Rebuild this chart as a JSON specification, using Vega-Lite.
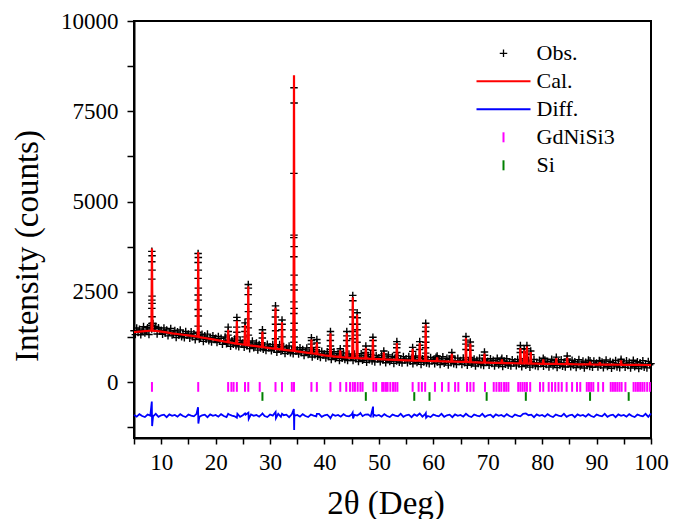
{
"$schema": "https://vega.github.io/schema/vega-lite/v6.json",
"width": 517, "height": 417,
"autosize": "none",
"padding": {"left": 134, "top": 21, "right": 30, "bottom": 81},
"config": {
 "font": "Liberation Serif",
 "view": {"stroke": "#000000", "strokeWidth": 2},
 "axis": {"domainColor": "#000000", "domainWidth": 2, "tickColor": "#000000", "tickWidth": 1.5, "labelColor": "#000000", "labelFont": "Liberation Serif", "labelFontSize": 23, "titleFont": "Liberation Serif", "titleFontSize": 33, "titleFontWeight": "normal", "titleColor": "#000000", "grid": false},
 "legend": {"orient": "none", "legendX": 358.5, "legendY": 21.3, "padding": 0, "symbolSize": 100, "symbolOffset": 0, "labelOffset": 22, "rowPadding": 6, "labelFont": "Liberation Serif", "labelFontSize": 22, "labelColor": "#000000", "symbolOpacity": 1, "symbolStrokeWidth": 2}
},
"datasets": {
 "obs": [
  {"x":5,"y":1420},{"x":5.25,"y":1314},{"x":5.5,"y":1498},{"x":5.75,"y":1371},{"x":6,"y":1465},{"x":6.25,"y":1309},{"x":6.5,"y":1423},{"x":6.75,"y":1536},{"x":7,"y":1360},{"x":7.25,"y":1413},{"x":7.5,"y":1505},{"x":7.75,"y":1318},{"x":8,"y":1560},{"x":8.25,"y":1470},{"x":8.5,"y":1620},{"x":8.75,"y":1480},{"x":9,"y":1540},{"x":9.25,"y":1330},{"x":9.5,"y":1505},{"x":9.75,"y":1410},
  {"x":10,"y":1435},{"x":10.25,"y":1320},{"x":10.5,"y":1495},{"x":10.75,"y":1360},{"x":11,"y":1445},{"x":11.25,"y":1279},{"x":11.5,"y":1383},{"x":11.75,"y":1486},{"x":12,"y":1300},{"x":12.25,"y":1345},{"x":12.5,"y":1430},{"x":12.75,"y":1235},{"x":13,"y":1390},{"x":13.25,"y":1295},{"x":13.5,"y":1440},{"x":13.75,"y":1255},{"x":14,"y":1340},{"x":14.25,"y":1225},{"x":14.5,"y":1400},{"x":14.75,"y":1305},
  {"x":15,"y":1330},{"x":15.25,"y":1215},{"x":15.5,"y":1390},{"x":15.75,"y":1255},{"x":16,"y":1340},{"x":16.25,"y":1174},{"x":16.5,"y":1278},{"x":16.75,"y":1381},{"x":17,"y":1195},{"x":17.25,"y":1239},{"x":17.5,"y":1323},{"x":17.75,"y":1126},{"x":18,"y":1280},{"x":18.25,"y":1184},{"x":18.5,"y":1328},{"x":18.75,"y":1141},{"x":19,"y":1225},{"x":19.25,"y":1109},{"x":19.5,"y":1283},{"x":19.75,"y":1186},
  {"x":20,"y":1210},{"x":20.25,"y":1093},{"x":20.5,"y":1265},{"x":20.75,"y":1128},{"x":21,"y":1210},{"x":21.25,"y":1043},{"x":21.5,"y":1145},{"x":21.75,"y":1248},{"x":22,"y":1060},{"x":22.25,"y":1104},{"x":22.5,"y":1188},{"x":22.75,"y":991},{"x":23,"y":1145},{"x":23.25,"y":1049},{"x":23.5,"y":1193},{"x":23.75,"y":1006},{"x":24,"y":1090},{"x":24.25,"y":975},{"x":24.5,"y":1150},{"x":24.75,"y":1055},
  {"x":25,"y":1080},{"x":25.25,"y":965},{"x":25.5,"y":1140},{"x":25.75,"y":1005},{"x":26,"y":1090},{"x":26.25,"y":925},{"x":26.5,"y":1030},{"x":26.75,"y":1135},{"x":27,"y":950},{"x":27.25,"y":995},{"x":27.5,"y":1080},{"x":27.75,"y":885},{"x":28,"y":1040},{"x":28.25,"y":945},{"x":28.5,"y":1090},{"x":28.75,"y":905},{"x":29,"y":990},{"x":29.25,"y":875},{"x":29.5,"y":1050},{"x":29.75,"y":955},
  {"x":30,"y":980},{"x":30.25,"y":865},{"x":30.5,"y":1040},{"x":30.75,"y":905},{"x":31,"y":990},{"x":31.25,"y":826},{"x":31.5,"y":931},{"x":31.75,"y":1037},{"x":32,"y":853},{"x":32.25,"y":899},{"x":32.5,"y":984},{"x":32.75,"y":790},{"x":33,"y":946},{"x":33.25,"y":851},{"x":33.5,"y":997},{"x":33.75,"y":812},{"x":34,"y":898},{"x":34.25,"y":784},{"x":34.5,"y":959},{"x":34.75,"y":865},
  {"x":35,"y":890},{"x":35.25,"y":775},{"x":35.5,"y":950},{"x":35.75,"y":815},{"x":36,"y":900},{"x":36.25,"y":735},{"x":36.5,"y":840},{"x":36.75,"y":945},{"x":37,"y":760},{"x":37.25,"y":805},{"x":37.5,"y":890},{"x":37.75,"y":695},{"x":38,"y":850},{"x":38.25,"y":754},{"x":38.5,"y":898},{"x":38.75,"y":711},{"x":39,"y":795},{"x":39.25,"y":679},{"x":39.5,"y":853},{"x":39.75,"y":756},
  {"x":40,"y":780},{"x":40.25,"y":665},{"x":40.5,"y":840},{"x":40.75,"y":705},{"x":41,"y":790},{"x":41.25,"y":626},{"x":41.5,"y":733},{"x":41.75,"y":839},{"x":42,"y":655},{"x":42.25,"y":702},{"x":42.5,"y":789},{"x":42.75,"y":595},{"x":43,"y":752},{"x":43.25,"y":659},{"x":43.5,"y":806},{"x":43.75,"y":623},{"x":44,"y":710},{"x":44.25,"y":598},{"x":44.5,"y":775},{"x":44.75,"y":683},
  {"x":45,"y":710},{"x":45.25,"y":598},{"x":45.5,"y":776},{"x":45.75,"y":644},{"x":46,"y":732},{"x":46.25,"y":570},{"x":46.5,"y":678},{"x":46.75,"y":787},{"x":47,"y":605},{"x":47.25,"y":653},{"x":47.5,"y":741},{"x":47.75,"y":549},{"x":48,"y":707},{"x":48.25,"y":615},{"x":48.5,"y":763},{"x":48.75,"y":582},{"x":49,"y":670},{"x":49.25,"y":558},{"x":49.5,"y":736},{"x":49.75,"y":644},
  {"x":50,"y":672},{"x":50.25,"y":561},{"x":50.5,"y":739},{"x":50.75,"y":608},{"x":51,"y":696},{"x":51.25,"y":535},{"x":51.5,"y":643},{"x":51.75,"y":752},{"x":52,"y":570},{"x":52.25,"y":619},{"x":52.5,"y":707},{"x":52.75,"y":516},{"x":53,"y":674},{"x":53.25,"y":583},{"x":53.5,"y":731},{"x":53.75,"y":550},{"x":54,"y":638},{"x":54.25,"y":527},{"x":54.5,"y":705},{"x":54.75,"y":614},
  {"x":55,"y":642},{"x":55.25,"y":531},{"x":55.5,"y":710},{"x":55.75,"y":578},{"x":56,"y":667},{"x":56.25,"y":506},{"x":56.5,"y":615},{"x":56.75,"y":723},{"x":57,"y":542},{"x":57.25,"y":591},{"x":57.5,"y":680},{"x":57.75,"y":489},{"x":58,"y":648},{"x":58.25,"y":557},{"x":58.5,"y":706},{"x":58.75,"y":525},{"x":59,"y":614},{"x":59.25,"y":503},{"x":59.5,"y":682},{"x":59.75,"y":591},
  {"x":60,"y":620},{"x":60.25,"y":509},{"x":60.5,"y":688},{"x":60.75,"y":557},{"x":61,"y":646},{"x":61.25,"y":485},{"x":61.5,"y":594},{"x":61.75,"y":703},{"x":62,"y":522},{"x":62.25,"y":571},{"x":62.5,"y":660},{"x":62.75,"y":469},{"x":63,"y":628},{"x":63.25,"y":537},{"x":63.5,"y":686},{"x":63.75,"y":505},{"x":64,"y":594},{"x":64.25,"y":483},{"x":64.5,"y":662},{"x":64.75,"y":571},
  {"x":65,"y":600},{"x":65.25,"y":489},{"x":65.5,"y":668},{"x":65.75,"y":536},{"x":66,"y":625},{"x":66.25,"y":464},{"x":66.5,"y":573},{"x":66.75,"y":681},{"x":67,"y":500},{"x":67.25,"y":549},{"x":67.5,"y":638},{"x":67.75,"y":446},{"x":68,"y":605},{"x":68.25,"y":514},{"x":68.5,"y":663},{"x":68.75,"y":481},{"x":69,"y":570},{"x":69.25,"y":459},{"x":69.5,"y":638},{"x":69.75,"y":546},
  {"x":70,"y":575},{"x":70.25,"y":464},{"x":70.5,"y":644},{"x":70.75,"y":513},{"x":71,"y":602},{"x":71.25,"y":441},{"x":71.5,"y":550},{"x":71.75,"y":660},{"x":72,"y":479},{"x":72.25,"y":528},{"x":72.5,"y":617},{"x":72.75,"y":427},{"x":73,"y":586},{"x":73.25,"y":495},{"x":73.5,"y":644},{"x":73.75,"y":464},{"x":74,"y":553},{"x":74.25,"y":442},{"x":74.5,"y":621},{"x":74.75,"y":531},
  {"x":75,"y":560},{"x":75.25,"y":449},{"x":75.5,"y":628},{"x":75.75,"y":498},{"x":76,"y":587},{"x":76.25,"y":426},{"x":76.5,"y":535},{"x":76.75,"y":645},{"x":77,"y":464},{"x":77.25,"y":513},{"x":77.5,"y":602},{"x":77.75,"y":412},{"x":78,"y":571},{"x":78.25,"y":480},{"x":78.5,"y":629},{"x":78.75,"y":449},{"x":79,"y":538},{"x":79.25,"y":427},{"x":79.5,"y":606},{"x":79.75,"y":516},
  {"x":80,"y":545},{"x":80.25,"y":435},{"x":80.5,"y":614},{"x":80.75,"y":484},{"x":81,"y":573},{"x":81.25,"y":413},{"x":81.5,"y":522},{"x":81.75,"y":632},{"x":82,"y":451},{"x":82.25,"y":501},{"x":82.5,"y":590},{"x":82.75,"y":400},{"x":83,"y":559},{"x":83.25,"y":469},{"x":83.5,"y":618},{"x":83.75,"y":438},{"x":84,"y":527},{"x":84.25,"y":417},{"x":84.5,"y":596},{"x":84.75,"y":506},
  {"x":85,"y":535},{"x":85.25,"y":425},{"x":85.5,"y":604},{"x":85.75,"y":474},{"x":86,"y":563},{"x":86.25,"y":403},{"x":86.5,"y":512},{"x":86.75,"y":622},{"x":87,"y":441},{"x":87.25,"y":491},{"x":87.5,"y":580},{"x":87.75,"y":390},{"x":88,"y":549},{"x":88.25,"y":459},{"x":88.5,"y":608},{"x":88.75,"y":428},{"x":89,"y":517},{"x":89.25,"y":407},{"x":89.5,"y":586},{"x":89.75,"y":496},
  {"x":90,"y":525},{"x":90.25,"y":415},{"x":90.5,"y":594},{"x":90.75,"y":464},{"x":91,"y":554},{"x":91.25,"y":393},{"x":91.5,"y":503},{"x":91.75,"y":612},{"x":92,"y":432},{"x":92.25,"y":482},{"x":92.5,"y":571},{"x":92.75,"y":381},{"x":93,"y":541},{"x":93.25,"y":450},{"x":93.5,"y":600},{"x":93.75,"y":419},{"x":94,"y":509},{"x":94.25,"y":399},{"x":94.5,"y":578},{"x":94.75,"y":488},
  {"x":95,"y":518},{"x":95.25,"y":407},{"x":95.5,"y":587},{"x":95.75,"y":456},{"x":96,"y":546},{"x":96.25,"y":386},{"x":96.5,"y":495},{"x":96.75,"y":605},{"x":97,"y":425},{"x":97.25,"y":474},{"x":97.5,"y":564},{"x":97.75,"y":373},{"x":98,"y":533},{"x":98.25,"y":443},{"x":98.5,"y":592},{"x":98.75,"y":412},{"x":99,"y":502},{"x":99.25,"y":391},{"x":99.5,"y":571},{"x":99.75,"y":480},{"x":100,"y":510},
  {"x":8.28,"y":3620},{"x":8.32,"y":3500},{"x":8.28,"y":3330},{"x":8.32,"y":3100},{"x":8.28,"y":2850},{"x":8.32,"y":2380},{"x":8.28,"y":2270},{"x":8.32,"y":2180},{"x":8.28,"y":2040},{"x":8.32,"y":1810},{"x":8.28,"y":1620},
  {"x":16.78,"y":3560},{"x":16.82,"y":3450},{"x":16.78,"y":3310},{"x":16.82,"y":3100},{"x":16.78,"y":2870},{"x":16.82,"y":2600},{"x":16.78,"y":2410},{"x":16.82,"y":2270},{"x":16.78,"y":2010},{"x":16.82,"y":1830},{"x":16.78,"y":1550},
  {"x":22.3,"y":1520},{"x":22.32,"y":1400},{"x":22.28,"y":1300},
  {"x":23.9,"y":1790},{"x":23.92,"y":1700},{"x":23.88,"y":1520},{"x":23.9,"y":1380},{"x":23.92,"y":1250},
  {"x":25.4,"y":1640},{"x":25.42,"y":1530},{"x":25.38,"y":1400},{"x":25.4,"y":1250},
  {"x":26,"y":2700},{"x":26.02,"y":2600},{"x":25.98,"y":2420},{"x":26,"y":2150},{"x":26.02,"y":1950},{"x":25.98,"y":1750},{"x":26,"y":1500},{"x":26.02,"y":1300},
  {"x":28.6,"y":1450},{"x":28.62,"y":1350},{"x":28.58,"y":1220},
  {"x":31,"y":2110},{"x":31.02,"y":1990},{"x":30.98,"y":1800},{"x":31,"y":1600},{"x":31.02,"y":1420},{"x":30.98,"y":1200},
  {"x":32.2,"y":1720},{"x":32.22,"y":1600},{"x":32.18,"y":1450},{"x":32.2,"y":1250},
  {"x":34.4,"y":8150},{"x":34.42,"y":7730},{"x":34.38,"y":5780},{"x":34.4,"y":4070},{"x":34.36,"y":4000},{"x":34.42,"y":3750},{"x":34.38,"y":3470},{"x":34.42,"y":2960},{"x":34.38,"y":2690},{"x":34.42,"y":2550},{"x":34.38,"y":2220},{"x":34.42,"y":2040},{"x":34.38,"y":1900},{"x":34.42,"y":1630},{"x":34.38,"y":1440},{"x":34.42,"y":1250},{"x":34.38,"y":1100},
  {"x":37.6,"y":1230},{"x":37.62,"y":1150},{"x":37.58,"y":1050},{"x":37.6,"y":950},
  {"x":38.6,"y":1180},{"x":38.62,"y":1080},{"x":38.58,"y":960},
  {"x":41.1,"y":1400},{"x":41.12,"y":1300},{"x":41.08,"y":1150},{"x":41.1,"y":1000},{"x":41.12,"y":900},
  {"x":42.9,"y":920},{"x":42.92,"y":850},
  {"x":44.1,"y":1400},{"x":44.12,"y":1280},{"x":44.08,"y":1150},{"x":44.1,"y":1000},
  {"x":45.2,"y":2400},{"x":45.22,"y":2250},{"x":45.18,"y":2000},{"x":45.2,"y":1800},{"x":45.22,"y":1600},{"x":45.18,"y":1400},{"x":45.2,"y":1200},
  {"x":46,"y":1920},{"x":46.02,"y":1780},{"x":45.98,"y":1600},{"x":46,"y":1450},{"x":46.02,"y":1300},{"x":45.98,"y":1100},
  {"x":47.6,"y":1000},{"x":47.62,"y":900},{"x":47.58,"y":820},
  {"x":48.9,"y":1240},{"x":48.92,"y":1150},{"x":48.88,"y":1000},{"x":48.9,"y":880},
  {"x":50.9,"y":860},{"x":50.92,"y":780},
  {"x":53.3,"y":1120},{"x":53.32,"y":1050},{"x":53.28,"y":950},{"x":53.3,"y":820},
  {"x":56.2,"y":960},{"x":56.22,"y":850},
  {"x":57.5,"y":1120},{"x":57.52,"y":1020},{"x":57.48,"y":900},
  {"x":58.6,"y":1630},{"x":58.62,"y":1520},{"x":58.58,"y":1400},{"x":58.6,"y":1250},{"x":58.62,"y":1100},{"x":58.58,"y":950},{"x":58.6,"y":800},
  {"x":60.7,"y":720},{"x":60.72,"y":650},
  {"x":63.4,"y":820},{"x":63.42,"y":720},
  {"x":66,"y":1260},{"x":66.02,"y":1160},{"x":65.98,"y":1050},{"x":66,"y":900},
  {"x":66.8,"y":1110},{"x":66.82,"y":1000},{"x":66.78,"y":880},
  {"x":69.4,"y":830},{"x":69.42,"y":740},
  {"x":72.6,"y":660},
  {"x":76,"y":1010},{"x":76.02,"y":920},{"x":75.98,"y":820},
  {"x":76.7,"y":920},{"x":76.72,"y":830},
  {"x":77.2,"y":1010},{"x":77.22,"y":920},{"x":77.18,"y":800},
  {"x":77.9,"y":860},{"x":77.92,"y":760},
  {"x":80.2,"y":660},{"x":82.6,"y":690},{"x":84.6,"y":720},{"x":84.62,"y":640},{"x":88.8,"y":590},{"x":90.6,"y":580},{"x":94.5,"y":630}
 ],
 "cal": [
  {"x":5,"y":1380},{"x":6,"y":1395},{"x":7,"y":1410},{"x":8,"y":1420},{"x":8.2,"y":1420},{"x":8.3,"y":3700},{"x":8.4,"y":1420},{"x":9,"y":1415},{"x":10,"y":1395},{"x":11,"y":1375},{"x":12,"y":1350},{"x":13,"y":1330},{"x":14,"y":1310},{"x":15,"y":1290},{"x":16,"y":1270},
  {"x":16.7,"y":1253},{"x":16.8,"y":3600},{"x":16.9,"y":1248},{"x":17,"y":1245},{"x":18,"y":1220},{"x":19,"y":1195},{"x":20,"y":1170},{"x":21,"y":1140},{"x":22,"y":1110},{"x":22.2,"y":1104},{"x":22.3,"y":1450},{"x":22.4,"y":1100},{"x":23,"y":1085},
  {"x":23.8,"y":1065},{"x":23.9,"y":1700},{"x":24,"y":1060},{"x":25,"y":1040},{"x":25.3,"y":1034},{"x":25.4,"y":1580},{"x":25.5,"y":1030},{"x":25.9,"y":1022},{"x":26,"y":2650},{"x":26.1,"y":1018},{"x":27,"y":1000},{"x":28,"y":980},
  {"x":28.5,"y":970},{"x":28.6,"y":1400},{"x":28.7,"y":966},{"x":29,"y":960},{"x":30,"y":940},{"x":30.9,"y":922},{"x":31,"y":2060},{"x":31.1,"y":918},{"x":32,"y":903},{"x":32.1,"y":901},{"x":32.2,"y":1660},{"x":32.3,"y":898},{"x":33,"y":886},{"x":34,"y":868},
  {"x":34.25,"y":864},{"x":34.33,"y":2500},{"x":34.4,"y":8500},{"x":34.47,"y":2500},{"x":34.55,"y":858},{"x":35,"y":850},{"x":36,"y":830},{"x":37,"y":810},{"x":37.5,"y":800},{"x":37.6,"y":1180},{"x":37.7,"y":796},{"x":38,"y":790},
  {"x":38.5,"y":778},{"x":38.6,"y":1100},{"x":38.7,"y":774},{"x":39,"y":765},{"x":40,"y":740},{"x":41,"y":720},{"x":41.1,"y":1350},{"x":41.2,"y":717},{"x":42,"y":705},{"x":42.8,"y":695},{"x":42.9,"y":880},{"x":43,"y":692},
  {"x":44,"y":680},{"x":44.1,"y":1350},{"x":44.2,"y":678},{"x":45,"y":670},{"x":45.1,"y":669},{"x":45.2,"y":2350},{"x":45.3,"y":668},{"x":45.9,"y":663},{"x":46,"y":1870},{"x":46.1,"y":661},{"x":47,"y":655},{"x":47.5,"y":651},{"x":47.6,"y":950},{"x":47.7,"y":650},
  {"x":48,"y":647},{"x":48.8,"y":642},{"x":48.9,"y":1190},{"x":49,"y":640},{"x":50,"y":632},{"x":50.8,"y":627},{"x":50.9,"y":820},{"x":51,"y":626},{"x":52,"y":620},{"x":53,"y":614},{"x":53.2,"y":613},{"x":53.3,"y":1080},{"x":53.4,"y":612},
  {"x":54,"y":608},{"x":55,"y":602},{"x":56,"y":597},{"x":56.1,"y":596},{"x":56.2,"y":920},{"x":56.3,"y":596},{"x":57,"y":592},{"x":57.4,"y":590},{"x":57.5,"y":1080},{"x":57.6,"y":590},{"x":58,"y":588},{"x":58.5,"y":586},{"x":58.6,"y":1590},{"x":58.7,"y":585},
  {"x":59,"y":584},{"x":60,"y":580},{"x":60.6,"y":578},{"x":60.7,"y":680},{"x":60.8,"y":577},{"x":61,"y":576},{"x":62,"y":572},{"x":63,"y":568},{"x":63.3,"y":567},{"x":63.4,"y":780},{"x":63.5,"y":566},{"x":64,"y":564},{"x":65,"y":560},
  {"x":65.9,"y":556},{"x":66,"y":1220},{"x":66.1,"y":555},{"x":66.7,"y":552},{"x":66.8,"y":1070},{"x":66.9,"y":551},{"x":67,"y":550},{"x":68,"y":545},{"x":69,"y":540},{"x":69.3,"y":539},{"x":69.4,"y":790},{"x":69.5,"y":538},{"x":70,"y":535},
  {"x":71,"y":532},{"x":72,"y":529},{"x":72.5,"y":527},{"x":72.6,"y":630},{"x":72.7,"y":527},{"x":73,"y":526},{"x":74,"y":523},{"x":75,"y":520},{"x":75.9,"y":517},{"x":76,"y":940},{"x":76.1,"y":517},{"x":76.6,"y":515},{"x":76.7,"y":880},{"x":76.8,"y":515},
  {"x":77,"y":514},{"x":77.1,"y":514},{"x":77.2,"y":980},{"x":77.3,"y":513},{"x":77.8,"y":511},{"x":77.9,"y":830},{"x":78,"y":511},{"x":79,"y":508},{"x":80,"y":505},{"x":80.1,"y":505},{"x":80.2,"y":630},{"x":80.3,"y":505},{"x":81,"y":503},{"x":82,"y":501},
  {"x":82.5,"y":500},{"x":82.6,"y":660},{"x":82.7,"y":500},{"x":83,"y":499},{"x":84,"y":497},{"x":84.5,"y":496},{"x":84.6,"y":680},{"x":84.7,"y":496},{"x":85,"y":495},{"x":86,"y":493},{"x":87,"y":491},{"x":88,"y":489},{"x":88.7,"y":488},{"x":88.8,"y":560},{"x":88.9,"y":487},
  {"x":89,"y":487},{"x":90,"y":485},{"x":90.5,"y":484},{"x":90.6,"y":550},{"x":90.7,"y":484},{"x":91,"y":484},{"x":92,"y":482},{"x":93,"y":481},{"x":94,"y":479},{"x":94.4,"y":479},{"x":94.5,"y":600},{"x":94.6,"y":478},{"x":95,"y":478},{"x":96,"y":476},{"x":97,"y":475},{"x":98,"y":473},{"x":99,"y":472},{"x":100,"y":470}
 ],
 "dif": [
  {"x":5,"y":-910},{"x":5.5,"y":-960},{"x":6,"y":-890},{"x":6.5,"y":-940},{"x":7,"y":-970},{"x":7.5,"y":-900},{"x":8,"y":-930},{"x":8.27,"y":-540},{"x":8.33,"y":-1220},{"x":8.5,"y":-950},{"x":9,"y":-880},{"x":9.5,"y":-965},{"x":10,"y":-920},{"x":10.5,"y":-905},{"x":11,"y":-975},{"x":11.5,"y":-895},{"x":12,"y":-935},{"x":12.5,"y":-910},{"x":13,"y":-960},{"x":13.5,"y":-890},{"x":14,"y":-940},{"x":14.5,"y":-970},{"x":15,"y":-900},{"x":15.5,"y":-930},{"x":16,"y":-950},{"x":16.5,"y":-880},{"x":16.77,"y":-700},{"x":16.83,"y":-1150},{"x":17,"y":-965},{"x":17.5,"y":-920},{"x":18,"y":-905},{"x":18.5,"y":-975},{"x":19,"y":-895},{"x":19.5,"y":-935},
  {"x":20,"y":-910},{"x":20.5,"y":-960},{"x":21,"y":-890},{"x":21.5,"y":-940},{"x":22,"y":-970},{"x":22.3,"y":-880},{"x":22.5,"y":-900},{"x":23,"y":-930},{"x":23.5,"y":-950},{"x":23.9,"y":-990},{"x":24,"y":-880},{"x":24.5,"y":-965},{"x":25,"y":-920},{"x":25.4,"y":-870},{"x":25.5,"y":-905},{"x":26.02,"y":-850},{"x":26.08,"y":-1020},{"x":26.5,"y":-895},{"x":27,"y":-935},{"x":27.5,"y":-910},{"x":28,"y":-960},{"x":28.5,"y":-890},{"x":28.6,"y":-870},{"x":29,"y":-940},{"x":29.5,"y":-970},
  {"x":30,"y":-900},{"x":30.5,"y":-930},{"x":31.02,"y":-830},{"x":31.08,"y":-1000},{"x":31.5,"y":-880},{"x":32,"y":-965},{"x":32.2,"y":-880},{"x":32.5,"y":-920},{"x":33,"y":-905},{"x":33.5,"y":-975},{"x":34,"y":-895},{"x":34.37,"y":-750},{"x":34.43,"y":-1330},{"x":34.47,"y":-870},{"x":34.5,"y":-935},{"x":35,"y":-910},{"x":35.5,"y":-960},{"x":36,"y":-890},{"x":36.5,"y":-940},{"x":37,"y":-970},{"x":37.5,"y":-900},{"x":38,"y":-930},{"x":38.5,"y":-950},{"x":38.6,"y":-880},{"x":39,"y":-880},{"x":39.5,"y":-965},
  {"x":40,"y":-920},{"x":40.5,"y":-905},{"x":41,"y":-975},{"x":41.1,"y":-1000},{"x":41.5,"y":-895},{"x":42,"y":-935},{"x":42.5,"y":-910},{"x":43,"y":-960},{"x":43.5,"y":-890},{"x":44,"y":-940},{"x":44.5,"y":-950},{"x":45,"y":-900},{"x":45.18,"y":-850},{"x":45.25,"y":-1010},{"x":45.5,"y":-910},{"x":46,"y":-930},{"x":46.5,"y":-880},{"x":46.6,"y":-860},{"x":47,"y":-945},{"x":47.5,"y":-900},{"x":48,"y":-895},{"x":48.5,"y":-955},{"x":48.93,"y":-680},{"x":48.97,"y":-980},{"x":49,"y":-895},{"x":49.5,"y":-935},
  {"x":50,"y":-910},{"x":50.5,"y":-960},{"x":51,"y":-890},{"x":51.5,"y":-940},{"x":52,"y":-970},{"x":52.5,"y":-900},{"x":53,"y":-930},{"x":53.5,"y":-950},{"x":54,"y":-880},{"x":54.5,"y":-965},{"x":55,"y":-920},{"x":55.5,"y":-905},{"x":56,"y":-975},{"x":56.5,"y":-895},{"x":57,"y":-935},{"x":57.5,"y":-870},{"x":58,"y":-960},{"x":58.5,"y":-890},{"x":58.62,"y":-860},{"x":58.68,"y":-990},{"x":59,"y":-940},{"x":59.5,"y":-970},
  {"x":60,"y":-900},{"x":60.5,"y":-930},{"x":61,"y":-950},{"x":61.5,"y":-880},{"x":62,"y":-965},{"x":62.5,"y":-920},{"x":63,"y":-905},{"x":63.5,"y":-975},{"x":64,"y":-895},{"x":64.5,"y":-935},{"x":65,"y":-910},{"x":65.5,"y":-960},{"x":66,"y":-880},{"x":66.5,"y":-940},{"x":67,"y":-970},{"x":67.5,"y":-900},{"x":68,"y":-930},{"x":68.5,"y":-950},{"x":69,"y":-880},{"x":69.5,"y":-965},
  {"x":70,"y":-920},{"x":70.5,"y":-905},{"x":71,"y":-975},{"x":71.5,"y":-895},{"x":72,"y":-935},{"x":72.5,"y":-910},{"x":73,"y":-960},{"x":73.5,"y":-890},{"x":74,"y":-940},{"x":74.5,"y":-970},{"x":75,"y":-900},{"x":75.5,"y":-930},{"x":76,"y":-950},{"x":76.5,"y":-880},{"x":77,"y":-870},{"x":77.5,"y":-920},{"x":78,"y":-905},{"x":78.5,"y":-975},{"x":79,"y":-895},{"x":79.5,"y":-935},
  {"x":80,"y":-910},{"x":80.5,"y":-960},{"x":81,"y":-890},{"x":81.5,"y":-940},{"x":82,"y":-970},{"x":82.5,"y":-900},{"x":83,"y":-930},{"x":83.5,"y":-950},{"x":84,"y":-880},{"x":84.5,"y":-965},{"x":85,"y":-920},{"x":85.5,"y":-905},{"x":86,"y":-975},{"x":86.5,"y":-895},{"x":87,"y":-935},{"x":87.5,"y":-910},{"x":88,"y":-960},{"x":88.5,"y":-890},{"x":89,"y":-940},{"x":89.5,"y":-970},
  {"x":90,"y":-900},{"x":90.5,"y":-930},{"x":91,"y":-950},{"x":91.5,"y":-880},{"x":92,"y":-965},{"x":92.5,"y":-920},{"x":93,"y":-905},{"x":93.5,"y":-975},{"x":94,"y":-895},{"x":94.5,"y":-935},{"x":95,"y":-910},{"x":95.5,"y":-960},{"x":96,"y":-890},{"x":96.5,"y":-940},{"x":97,"y":-970},{"x":97.5,"y":-900},{"x":98,"y":-930},{"x":98.5,"y":-950},{"x":99,"y":-880},{"x":99.5,"y":-965},{"x":100,"y":-870}
 ],
 "tk": [
  {"x":8.3,"p":"GdNiSi3"},{"x":16.8,"p":"GdNiSi3"},{"x":22.3,"p":"GdNiSi3"},{"x":22.9,"p":"GdNiSi3"},{"x":23.3,"p":"GdNiSi3"},{"x":23.9,"p":"GdNiSi3"},{"x":25.4,"p":"GdNiSi3"},{"x":26.0,"p":"GdNiSi3"},{"x":28.1,"p":"GdNiSi3"},{"x":31.0,"p":"GdNiSi3"},{"x":32.2,"p":"GdNiSi3"},{"x":34.0,"p":"GdNiSi3"},{"x":34.4,"p":"GdNiSi3"},{"x":37.6,"p":"GdNiSi3"},{"x":38.6,"p":"GdNiSi3"},{"x":41.1,"p":"GdNiSi3"},{"x":42.9,"p":"GdNiSi3"},{"x":44.0,"p":"GdNiSi3"},{"x":44.7,"p":"GdNiSi3"},{"x":45.2,"p":"GdNiSi3"},{"x":45.6,"p":"GdNiSi3"},{"x":46.1,"p":"GdNiSi3"},{"x":46.6,"p":"GdNiSi3"},{"x":47.0,"p":"GdNiSi3"},{"x":49.0,"p":"GdNiSi3"},{"x":49.5,"p":"GdNiSi3"},{"x":50.6,"p":"GdNiSi3"},{"x":50.9,"p":"GdNiSi3"},{"x":51.3,"p":"GdNiSi3"},{"x":51.6,"p":"GdNiSi3"},{"x":52.1,"p":"GdNiSi3"},{"x":52.6,"p":"GdNiSi3"},{"x":53.0,"p":"GdNiSi3"},{"x":53.4,"p":"GdNiSi3"},
  {"x":56.2,"p":"GdNiSi3"},{"x":57.3,"p":"GdNiSi3"},{"x":57.9,"p":"GdNiSi3"},{"x":58.5,"p":"GdNiSi3"},{"x":60.3,"p":"GdNiSi3"},{"x":61.6,"p":"GdNiSi3"},{"x":62.8,"p":"GdNiSi3"},{"x":64.0,"p":"GdNiSi3"},{"x":64.6,"p":"GdNiSi3"},{"x":66.2,"p":"GdNiSi3"},{"x":66.8,"p":"GdNiSi3"},{"x":67.4,"p":"GdNiSi3"},{"x":69.5,"p":"GdNiSi3"},{"x":71.1,"p":"GdNiSi3"},{"x":71.6,"p":"GdNiSi3"},{"x":72.1,"p":"GdNiSi3"},{"x":72.5,"p":"GdNiSi3"},{"x":73.0,"p":"GdNiSi3"},{"x":73.4,"p":"GdNiSi3"},{"x":73.8,"p":"GdNiSi3"},{"x":75.6,"p":"GdNiSi3"},{"x":76.0,"p":"GdNiSi3"},{"x":76.4,"p":"GdNiSi3"},{"x":76.8,"p":"GdNiSi3"},{"x":77.2,"p":"GdNiSi3"},{"x":77.8,"p":"GdNiSi3"},
  {"x":79.6,"p":"GdNiSi3"},{"x":80.2,"p":"GdNiSi3"},{"x":81.2,"p":"GdNiSi3"},{"x":81.8,"p":"GdNiSi3"},{"x":82.4,"p":"GdNiSi3"},{"x":83.0,"p":"GdNiSi3"},{"x":83.6,"p":"GdNiSi3"},{"x":84.5,"p":"GdNiSi3"},{"x":85.5,"p":"GdNiSi3"},{"x":86.4,"p":"GdNiSi3"},{"x":87.0,"p":"GdNiSi3"},{"x":88.2,"p":"GdNiSi3"},{"x":88.6,"p":"GdNiSi3"},{"x":89.0,"p":"GdNiSi3"},{"x":89.4,"p":"GdNiSi3"},{"x":90.3,"p":"GdNiSi3"},{"x":91.2,"p":"GdNiSi3"},{"x":92.6,"p":"GdNiSi3"},{"x":93.0,"p":"GdNiSi3"},{"x":93.4,"p":"GdNiSi3"},{"x":93.8,"p":"GdNiSi3"},{"x":94.2,"p":"GdNiSi3"},{"x":94.6,"p":"GdNiSi3"},{"x":95.3,"p":"GdNiSi3"},{"x":96.8,"p":"GdNiSi3"},{"x":97.2,"p":"GdNiSi3"},{"x":97.6,"p":"GdNiSi3"},{"x":98.0,"p":"GdNiSi3"},{"x":98.4,"p":"GdNiSi3"},{"x":98.8,"p":"GdNiSi3"},{"x":99.3,"p":"GdNiSi3"},{"x":99.8,"p":"GdNiSi3"},
  {"x":28.6,"p":"Si"},{"x":47.6,"p":"Si"},{"x":56.5,"p":"Si"},{"x":59.3,"p":"Si"},{"x":69.8,"p":"Si"},{"x":77.0,"p":"Si"},{"x":88.8,"p":"Si"},{"x":95.9,"p":"Si"}
 ]
},
"layer": [
 {
  "data": {"name": "obs"},
  "mark": {"type": "point", "shape": "M-1,0H1M0,-1V1", "size": 56, "strokeWidth": 1.4, "filled": false, "opacity": 1},
  "encoding": {
   "x": {"field": "x", "type": "quantitative", "title": "2θ (Deg)",
     "scale": {"domain": [5, 100], "nice": false, "zero": false},
     "axis": {"tickCount": 19, "format": "d", "labelExpr": "datum.value % 10 === 0 ? datum.label : ''", "labelOverlap": false, "labelFlush": false, "labelBound": false, "labelFont": "Liberation Serif", "labelFontSize": 23, "tickSize": 6, "labelPadding": 7, "titleX": 251.5, "titleY": 75, "titleBaseline": "alphabetic", "titleAlign": "center",
       "encode": {"ticks": {"update": {"y2": {"signal": "datum.value % 10 === 0 ? 6 : 4"}}}}}},
   "y": {"field": "y", "type": "quantitative", "title": "Intensity (counts)",
     "scale": {"domain": [-1550, 10000], "nice": false, "zero": false},
     "axis": {"values": [-1250,0,1250,2500,3750,5000,6250,7500,8750,10000], "format": "d", "labelExpr": "datum.value % 2500 === 0 ? datum.label : ''", "labelOverlap": false, "labelFlush": false, "labelFont": "Liberation Serif", "labelFontSize": 23, "tickSize": 7, "labelPadding": 9, "titleX": -97, "titleY": 224.5, "titleAngle": 270, "titleBaseline": "alphabetic", "titleAlign": "center",
       "encode": {"ticks": {"update": {"x2": {"signal": "datum.value % 2500 === 0 ? -7 : -4"}}}}}},
   "color": {"datum": "Obs.", "type": "nominal",
     "scale": {"domain": ["Obs.", "Cal.", "Diff.", "GdNiSi3", "Si"], "range": ["#000000", "#FF0000", "#0000FF", "#FF00FF", "#008000"]},
     "legend": {"title": null, "encode": {"symbols": {"update": {
         "shape": {"signal": "datum.value === 'Obs.' ? 'M-0.75,0H0.75M0,-0.75V0.75' : (datum.value === 'Cal.' || datum.value === 'Diff.') ? 'M-5.4,0H5.4' : 'M0,-1V1'"},
         "stroke": {"scale": "color", "field": "value"},
         "fill": {"value": "transparent"},
         "strokeWidth": {"signal": "datum.value === 'Obs.' ? 1.3 : 2"},
         "opacity": {"value": 1}}}}}}
  }
 },
 {
  "data": {"name": "cal"},
  "mark": {"type": "line", "strokeWidth": 2.2},
  "encoding": {
   "x": {"field": "x", "type": "quantitative", "title": "2θ (Deg)"},
   "y": {"field": "y", "type": "quantitative", "title": "Intensity (counts)"},
   "color": {"datum": "Cal.", "type": "nominal",
     "legend": {"title": null, "encode": {"symbols": {"update": {
         "shape": {"signal": "datum.value === 'Obs.' ? 'M-0.75,0H0.75M0,-0.75V0.75' : (datum.value === 'Cal.' || datum.value === 'Diff.') ? 'M-5.4,0H5.4' : 'M0,-1V1'"},
         "stroke": {"scale": "color", "field": "value"},
         "fill": {"value": "transparent"},
         "strokeWidth": {"signal": "datum.value === 'Obs.' ? 1.3 : 2"},
         "opacity": {"value": 1}}}}}}
  }
 },
 {
  "data": {"name": "dif"},
  "mark": {"type": "line", "strokeWidth": 1.8},
  "encoding": {
   "x": {"field": "x", "type": "quantitative", "title": "2θ (Deg)"},
   "y": {"field": "y", "type": "quantitative", "title": "Intensity (counts)"},
   "color": {"datum": "Diff.", "type": "nominal",
     "legend": {"title": null, "encode": {"symbols": {"update": {
         "shape": {"signal": "datum.value === 'Obs.' ? 'M-0.75,0H0.75M0,-0.75V0.75' : (datum.value === 'Cal.' || datum.value === 'Diff.') ? 'M-5.4,0H5.4' : 'M0,-1V1'"},
         "stroke": {"scale": "color", "field": "value"},
         "fill": {"value": "transparent"},
         "strokeWidth": {"signal": "datum.value === 'Obs.' ? 1.3 : 2"},
         "opacity": {"value": 1}}}}}}
  }
 },
 {
  "data": {"name": "tk"},
  "transform": [{"filter": "datum.p === 'GdNiSi3'"}],
  "mark": {"type": "rule", "strokeWidth": 2},
  "encoding": {
   "x": {"field": "x", "type": "quantitative", "title": "2θ (Deg)"},
   "y": {"datum": 0, "type": "quantitative", "title": "Intensity (counts)"},
   "y2": {"datum": -270},
   "color": {"field": "p", "type": "nominal",
     "legend": {"title": null, "encode": {"symbols": {"update": {
         "shape": {"signal": "datum.value === 'Obs.' ? 'M-0.75,0H0.75M0,-0.75V0.75' : (datum.value === 'Cal.' || datum.value === 'Diff.') ? 'M-5.4,0H5.4' : 'M0,-1V1'"},
         "stroke": {"scale": "color", "field": "value"},
         "fill": {"value": "transparent"},
         "strokeWidth": {"signal": "datum.value === 'Obs.' ? 1.3 : 2"},
         "opacity": {"value": 1}}}}}}
  }
 },
 {
  "data": {"name": "tk"},
  "transform": [{"filter": "datum.p === 'Si'"}],
  "mark": {"type": "rule", "strokeWidth": 2},
  "encoding": {
   "x": {"field": "x", "type": "quantitative", "title": "2θ (Deg)"},
   "y": {"datum": -280, "type": "quantitative", "title": "Intensity (counts)"},
   "y2": {"datum": -520},
   "color": {"field": "p", "type": "nominal",
     "legend": {"title": null, "encode": {"symbols": {"update": {
         "shape": {"signal": "datum.value === 'Obs.' ? 'M-0.75,0H0.75M0,-0.75V0.75' : (datum.value === 'Cal.' || datum.value === 'Diff.') ? 'M-5.4,0H5.4' : 'M0,-1V1'"},
         "stroke": {"scale": "color", "field": "value"},
         "fill": {"value": "transparent"},
         "strokeWidth": {"signal": "datum.value === 'Obs.' ? 1.3 : 2"},
         "opacity": {"value": 1}}}}}}
  }
 }
]
}
